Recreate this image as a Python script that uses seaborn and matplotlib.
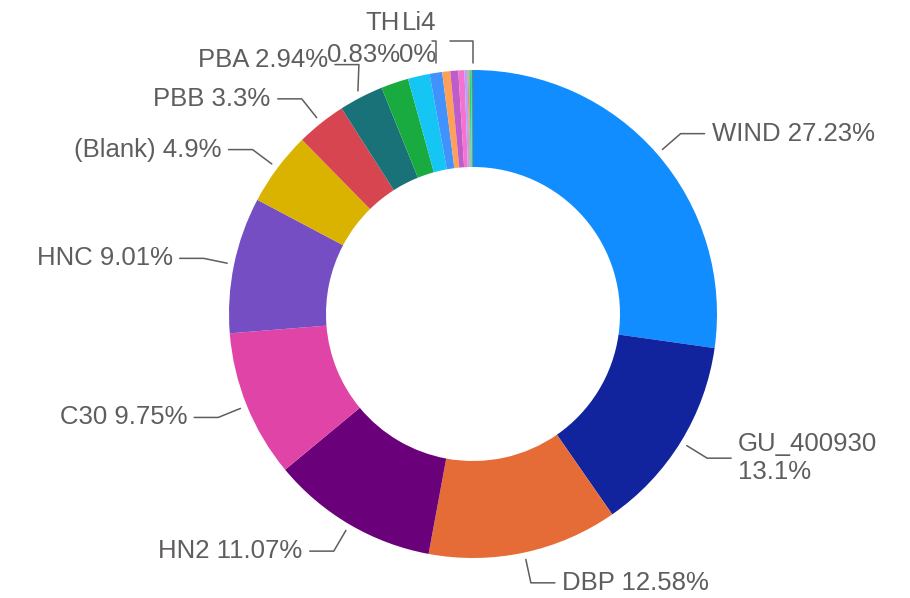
import numpy as np
import matplotlib
matplotlib.use("Agg")
import matplotlib.pyplot as plt
import seaborn as sns

# slices, clockwise from 12 o'clock
categories = ["WIND", "GU_400930", "DBP", "HN2", "C30", "HNC", "(Blank)", "PBB", "PBA",
              "", "", "TH", "", "", "", "", "", "", "", "", "Li4"]
shares = [27.23, 13.1, 12.58, 11.07, 9.75, 9.01, 4.9, 3.3, 2.94,
          1.82, 1.44, 0.83, 0.53, 0.53, 0.40, 0.20, 0.06, 0.06, 0.10, 0.10, 0.04]
share_text = ["27.23%", "13.1%", "12.58%", "11.07%", "9.75%", "9.01%", "4.9%", "3.3%", "2.94%",
              "", "", "0.83%", "", "", "", "", "", "", "", "", "0%"]
colors = ["#118DFF", "#12239E", "#E66C37", "#6B007B", "#E044A7", "#744EC2", "#D9B300",
          "#D64550", "#197278", "#1AAB40", "#15C6F4", "#4092FF", "#FFA058", "#BE5DC9",
          "#F472D0", "#B5A1FF", "#C4A200", "#FF8080", "#00DBBC", "#5BD667", "#3B3A39"]

# labels that break onto two lines / sit above the ring
two_line = ["GU_400930", "TH", "Li4"]
above = {"TH": 4, "Li4": 23}

sns.set_theme(style="white")
plt.rcParams["font.family"] = ["Liberation Sans", "DejaVu Sans"]
txt_color = "#605E5C"

fig = plt.figure(figsize=(9.1, 5.98), dpi=100)
ax = fig.add_axes([0, 0, 1, 1])

cx, cy = 473, 284
R = 244
wedges, _ = ax.pie(shares, colors=sns.color_palette(colors), startangle=90, counterclock=False,
                   radius=R, center=(cx, cy),
                   wedgeprops=dict(width=97, linewidth=0))
ax.set_xlim(0, 910)
ax.set_ylim(0, 598)
ax.set_aspect("equal")
ax.axis("off")

fs = 18.5
for w, name, pct in zip(wedges, categories, share_text):
    if not name:
        continue
    label = f"{name}\n{pct}" if name in two_line else f"{name} {pct}"
    theta = np.deg2rad((w.theta1 + w.theta2) / 2)
    c, s = np.cos(theta), np.sin(theta)
    if name in above:
        x0 = cx + R * c
        y_top = cy + R + 29
        xs = [x0, x0, x0 - above[name]]
        ys = [cy + R + 7, y_top, y_top]
        ax.plot(xs, ys, color=txt_color, lw=1.1)
        ax.text(x0 - 36, y_top + 2, label, ha="right", va="center", fontsize=fs,
                color=txt_color, linespacing=1.45)
        continue
    p0 = (cx + 251 * c, cy + 251 * s)
    p1 = (cx + 275 * c, cy + 275 * s)
    side = 1 if c >= 0 else -1
    p2 = (p1[0] + side * 24, p1[1])
    if name == "PBA":
        # pushed up a little to clear its neighbours
        p1 = (p1[0] + 12, p1[1] + 5)
        p2 = (p1[0] - 24, p1[1])
    ax.plot([p0[0], p1[0], p2[0]], [p0[1], p1[1], p2[1]], color=txt_color, lw=1.1)
    ax.text(p2[0] + side * 7, p2[1] + (5 if name == "PBA" else 0), label,
            ha="left" if side > 0 else "right",
            va="center", fontsize=fs, color=txt_color, linespacing=1.2)

fig.savefig("out.png", dpi=100)
